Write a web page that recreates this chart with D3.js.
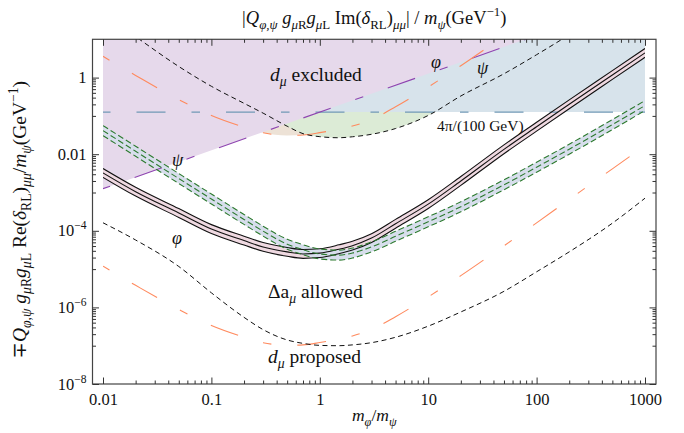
<!DOCTYPE html>
<html>
<head>
<meta charset="utf-8">
<script src="https://cdn.jsdelivr.net/npm/d3@7"></script>
<style>
  body { margin: 0; background: #fff; }
  svg text { font-family: "Liberation Serif", "DejaVu Serif", serif; fill: #111; white-space: pre; }
</style>
</head>
<body>
<div id="chart"></div>
<script>
// mass ratio m_phi / m_psi
const ratio = [0.01, 0.02, 0.05, 0.1, 0.2, 0.3, 0.5, 0.7, 1, 1.5, 2, 3, 5, 10, 20, 50, 100, 200, 500, 1000];

// Delta a_mu band, scalar phi (solid)
const phiLo  = [2.49e-3, 8.05e-4, 2.24e-4, 8.5e-5, 4.26e-5, 2.91e-5, 2.16e-5, 1.91e-5, 2.0e-5, 2.53e-5, 3.14e-5, 4.95e-5, 1.17e-4, 3.81e-4, 1.53e-3, 1.03e-2, 4.0e-2, 0.154, 0.897, 3.39];
const phiMid = [3.25e-3, 1.05e-3, 2.92e-4, 1.11e-4, 5.55e-5, 3.79e-5, 2.81e-5, 2.49e-5, 2.61e-5, 3.30e-5, 4.09e-5, 6.46e-5, 1.53e-4, 4.97e-4, 2.0e-3, 1.34e-2, 5.22e-2, 0.201, 1.17, 4.42];
const phiHi  = [4.23e-3, 1.37e-3, 3.80e-4, 1.45e-4, 7.23e-5, 4.94e-5, 3.66e-5, 3.24e-5, 3.4e-5, 4.3e-5, 5.33e-5, 8.42e-5, 1.99e-4, 6.48e-4, 2.61e-3, 1.75e-2, 6.8e-2, 0.262, 1.52, 5.76];

// Delta a_mu band, fermion psi (dashed)
const psiLo  = [3.06e-2, 8.8e-3, 1.72e-3, 5.0e-4, 1.47e-4, 7.26e-5, 3.31e-5, 2.38e-5, 1.84e-5, 1.72e-5, 1.95e-5, 2.82e-5, 5.32e-5, 1.27e-4, 3.14e-4, 1.18e-3, 3.39e-3, 1.0e-2, 4.4e-2, 0.138];
const psiMid = [4.13e-2, 1.19e-2, 2.32e-3, 6.75e-4, 1.98e-4, 9.8e-5, 4.47e-5, 3.21e-5, 2.48e-5, 2.32e-5, 2.63e-5, 3.8e-5, 7.18e-5, 1.72e-4, 4.24e-4, 1.59e-3, 4.57e-3, 1.35e-2, 5.94e-2, 0.186];
const psiHi  = [5.58e-2, 1.61e-2, 3.13e-3, 9.1e-4, 2.67e-4, 1.32e-4, 6.03e-5, 4.33e-5, 3.35e-5, 3.13e-5, 3.55e-5, 5.13e-5, 9.69e-5, 2.32e-4, 5.72e-4, 2.15e-3, 6.17e-3, 1.82e-2, 8.02e-2, 0.251];

// d_mu limits: current (excluded) and proposed, psi (black) and phi (orange)
const dmuNowPsi = [45.7, 11.7, 1.95, 0.593, 0.213, 0.118, 0.0538, 0.0344, 0.0287, 0.0269, 0.0285, 0.0331, 0.0468, 0.1026, 0.331, 1.26, 3.96, 13.2, 76, 282];
const dmuNewPsi = [1.62e-4, 5.75e-5, 1.17e-5, 2.4e-6, 5.5e-7, 2.63e-7, 1.41e-7, 1.15e-7, 1.02e-7, 1.0e-7, 1.05e-7, 1.2e-7, 1.66e-7, 3.24e-7, 7.6e-7, 2.63e-6, 8.5e-6, 2.82e-5, 1.58e-4, 7.1e-4];
const dmuNowPhi = [3.59, 1.14, 0.267, 0.102, 0.0507, 0.0362, 0.0308, 0.0317, 0.0365, 0.0453, 0.0544, 0.080, 0.173, 0.568, 2.04, 12.3, 48.6, 199, 1253, 5040];
const dmuNewPhi = [1.19e-5, 3.77e-6, 8.85e-7, 3.38e-7, 1.68e-7, 1.2e-7, 1.02e-7, 1.05e-7, 1.21e-7, 1.5e-7, 1.8e-7, 2.65e-7, 5.73e-7, 1.88e-6, 6.75e-6, 4.06e-5, 1.61e-4, 6.59e-4, 4.15e-3, 1.67e-2];

// purple edge of the excluded region and the perturbativity line
const edgeRatio = [0.01, 1000];
const edgeValue = [1.26e-3, 126];
const pertLimit = 0.1257;

const xTicks = [0.01, 0.1, 1, 10, 100, 1000];
const xTickLabels = ["0.01", "0.1", "1", "10", "100", "1000"];
const yTicks = [1e-8, 1e-6, 1e-4, 1e-2, 1];
const yTickLabels = [["10", "−8"], ["10", "−6"], ["10", "−4"], ["0.01", ""], ["1", ""]];

const W = 684, H = 433;
const frame = {left: 92.5, right: 656, top: 39.3, bottom: 384};

const svg = d3.select("#chart").append("svg")
  .attr("width", W)
  .attr("height", H);

const x = d3.scaleLog().domain([0.01, 1000]).range([103, 645]);
const y = d3.scaleLog().domain([1e-8, 10]).range([frame.bottom, frame.top]);

svg.append("defs").append("clipPath").attr("id", "plot")
  .append("rect")
  .attr("x", x(0.01)).attr("y", frame.top)
  .attr("width", x(1000) - x(0.01)).attr("height", frame.bottom - frame.top);

const pts = ys => ratio.map((r, i) => [r, ys[i]]);
const band = (lo, hi) => ratio.map((r, i) => [r, lo[i], hi[i]]);

const line = d3.line().x(d => x(d[0])).y(d => y(d[1])).curve(d3.curveMonotoneX);
const above = d3.area().x(d => x(d[0])).y0(frame.top - 5).y1(d => y(d[1])).curve(d3.curveMonotoneX);
const between = d3.area().x(d => x(d[0])).y0(d => y(d[1])).y1(d => y(d[2])).curve(d3.curveMonotoneX);

const plot = svg.append("g").attr("clip-path", "url(#plot)");

// shaded regions
plot.append("path").attr("d", above(pts(dmuNowPhi))).attr("fill", "#ede2d6");
plot.append("path").attr("d", above(pts(dmuNowPsi))).attr("fill", "#dcebd6");
plot.append("path").attr("d", above([[0.01, pertLimit], [1000, pertLimit]])).attr("fill", "#d7e3eb");
plot.append("path").attr("d", above(edgeRatio.map((r, i) => [r, edgeValue[i]]))).attr("fill", "#e6d9eb");

// a_mu bands
plot.append("path").attr("d", between(band(phiLo, phiHi))).attr("fill", "#efd9e1");
plot.append("path").attr("d", between(band(psiLo, psiHi))).attr("fill", "#d7deec");

const dotDash = "29,26,8.5,26";

plot.append("path")
  .attr("d", line([[0.01, pertLimit], [1000, pertLimit]]))
  .attr("fill", "none").attr("stroke", "#7199b6").attr("stroke-width", 1.3)
  .attr("stroke-dasharray", dotDash).attr("stroke-dashoffset", 56);

plot.append("path")
  .attr("d", line(edgeRatio.map((r, i) => [r, edgeValue[i]])))
  .attr("fill", "none").attr("stroke", "#8e44b0").attr("stroke-width", 1.1)
  .attr("stroke-dasharray", dotDash).attr("stroke-dashoffset", 56);

[dmuNowPhi, dmuNewPhi].forEach(s => {
  plot.append("path").attr("d", line(pts(s)))
    .attr("fill", "none").attr("stroke", "#ff8a5e").attr("stroke-width", 1.1)
    .attr("stroke-dasharray", dotDash).attr("stroke-dashoffset", 56);
});

[dmuNowPsi, dmuNewPsi].forEach(s => {
  plot.append("path").attr("d", line(pts(s)))
    .attr("fill", "none").attr("stroke", "#111").attr("stroke-width", 1)
    .attr("stroke-dasharray", "5,3.5");
});

[phiLo, phiMid, phiHi].forEach(s => {
  plot.append("path").attr("d", line(pts(s)))
    .attr("fill", "none").attr("stroke", "#111").attr("stroke-width", 1.1);
});

[psiLo, psiMid, psiHi].forEach(s => {
  plot.append("path").attr("d", line(pts(s)))
    .attr("fill", "none").attr("stroke", "#2c7a2e").attr("stroke-width", 1.1)
    .attr("stroke-dasharray", "6,3");
});

// frame
svg.append("rect")
  .attr("x", frame.left).attr("y", frame.top)
  .attr("width", frame.right - frame.left).attr("height", frame.bottom - frame.top)
  .attr("fill", "none").attr("stroke", "#444").attr("stroke-width", 1.2);

// ticks
const xMinor = [];
for (let e = -2; e <= 2; e++) for (let k = 2; k <= 9; k++) xMinor.push(k * Math.pow(10, e));
const yMinor = [];
[-7, -5, -3, -1].forEach(e => { for (let k = 1; k <= 9; k++) yMinor.push(k * Math.pow(10, e)); });

function styleAxis(g) {
  g.select(".domain").remove();
  g.selectAll("line").attr("stroke", "#333");
}

svg.append("g").attr("transform", `translate(0,${frame.bottom})`)
  .call(d3.axisBottom(x).tickValues(xMinor).tickSize(-3.5).tickFormat(""))
  .call(styleAxis);
svg.append("g").attr("transform", `translate(0,${frame.bottom})`)
  .call(d3.axisBottom(x).tickValues(xTicks).tickSize(-6.5).tickPadding(9)
    .tickFormat((d, i) => xTickLabels[i]))
  .call(styleAxis)
  .call(g => g.selectAll("text").attr("fill", "#111")
    .style("font-family", "Liberation Serif").style("font-size", "16.5px"));
svg.append("g").attr("transform", `translate(0,${frame.top})`)
  .call(d3.axisTop(x).tickValues(xMinor).tickSize(-3.5).tickFormat(""))
  .call(styleAxis);
svg.append("g").attr("transform", `translate(0,${frame.top})`)
  .call(d3.axisTop(x).tickValues(xTicks).tickSize(-6.5).tickFormat(""))
  .call(styleAxis);

[[frame.left, d3.axisLeft], [frame.right, d3.axisRight]].forEach(([pos, ax]) => {
  svg.append("g").attr("transform", `translate(${pos},0)`)
    .call(ax(y).tickValues(yMinor).tickSize(-3.5).tickFormat(""))
    .call(styleAxis);
  svg.append("g").attr("transform", `translate(${pos},0)`)
    .call(ax(y).tickValues(yTicks).tickSize(-6.5).tickFormat(""))
    .call(styleAxis);
});

// rich text helper: parts are [text, flags]; flags: i italic, b sub, p sup
function rich(t, parts, size) {
  let shift = 0;
  parts.forEach(([s, f]) => {
    let target = 0, fs = size;
    if (f.includes("b")) { target = size * 0.28; fs = size * 0.7; }
    if (f.includes("p")) { target = -size * 0.42; fs = size * 0.7; }
    const ts = t.append("tspan").text(s).attr("dy", target - shift).style("font-size", fs + "px");
    if (f.includes("i")) ts.style("font-style", "italic");
    shift = target;
  });
  return t;
}

yTicks.forEach((v, i) => {
  const t = svg.append("text").attr("x", frame.left - 6).attr("y", y(v) + 5.5)
    .attr("text-anchor", "end");
  const [base, sup] = yTickLabels[i];
  rich(t, sup ? [[base, ""], [sup, "p"]] : [[base, ""]], 16.5);
});

// axis titles
const titleTop = [["|", ""], ["Q", "i"], ["φ,ψ", "bi"], [" g", "i"], ["μ", "bi"], ["R", "b"], ["g", "i"], ["μ", "bi"], ["L", "b"],
  [" Im(", ""], ["δ", "i"], ["RL", "b"], [")", ""], ["μμ", "bi"], ["| / ", ""], ["m", "i"], ["ψ", "bi"], ["(GeV", ""], ["−1", "p"], [")", ""]];
rich(svg.append("text").attr("x", (frame.left + frame.right) / 2).attr("y", 24).attr("text-anchor", "middle"), titleTop, 18.5);

const titleLeft = [["∓", ""], ["Q", "i"], ["φ,ψ", "bi"], [" g", "i"], ["μ", "bi"], ["R", "b"], ["g", "i"], ["μ", "bi"], ["L", "b"],
  [" Re(", ""], ["δ", "i"], ["RL", "b"], [")", ""], ["μμ", "bi"], ["/", ""], ["m", "i"], ["ψ", "bi"], ["(GeV", ""], ["−1", "p"], [")", ""]];
rich(svg.append("text").attr("transform", `translate(26,${(frame.top + frame.bottom) / 2 + 8}) rotate(-90)`)
  .attr("text-anchor", "middle"), titleLeft, 19.5);

rich(svg.append("text").attr("x", (frame.left + frame.right) / 2).attr("y", 421).attr("text-anchor", "middle"),
  [["m", "i"], ["φ", "bi"], ["/", ""], ["m", "i"], ["ψ", "bi"]], 17.5);

// in-plot labels
rich(svg.append("text").attr("x", 270).attr("y", 81), [["d", "i"], ["μ", "bi"], [" excluded", ""]], 19.5);
rich(svg.append("text").attr("x", 268).attr("y", 298), [["Δa", ""], ["μ", "bi"], [" allowed", ""]], 19.5);
rich(svg.append("text").attr("x", 268).attr("y", 363), [["d", "i"], ["μ", "bi"], [" proposed", ""]], 19.5);
svg.append("text").attr("x", 437).attr("y", 131).style("font-size", "15.5px").text("4π/(100 GeV)");
[["φ", 431, 68], ["ψ", 477, 74], ["ψ", 172, 166], ["φ", 172, 244]].forEach(([s, px, py]) => {
  svg.append("text").attr("x", px).attr("y", py).style("font-size", "18px").style("font-style", "italic").text(s);
});
</script>
</body>
</html>
